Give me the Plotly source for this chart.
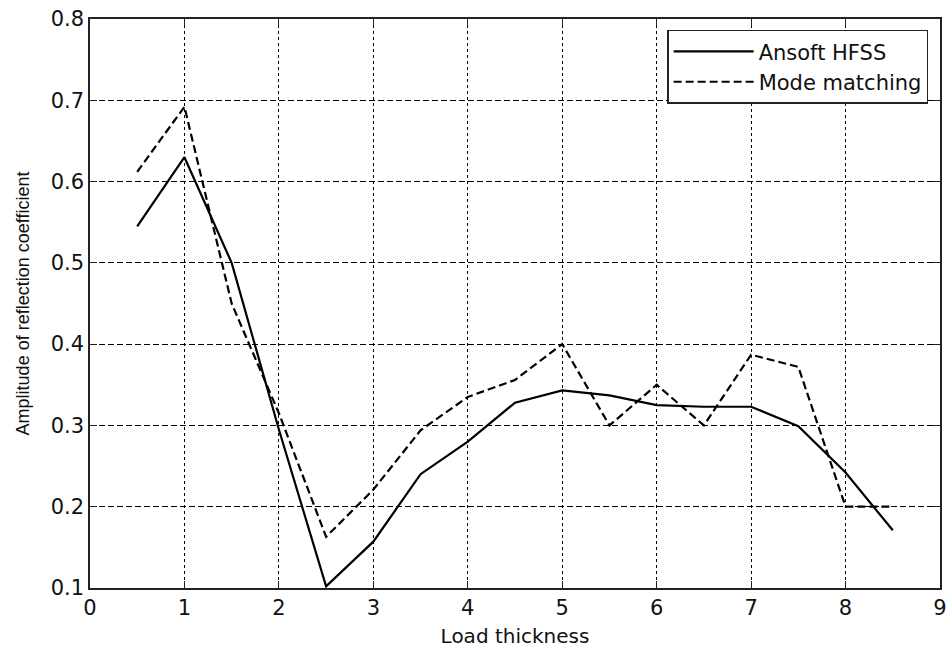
import plotly.graph_objects as go

thickness = [0.5, 1.0, 1.5, 2.0, 2.5, 3.0, 3.5, 4.0, 4.5, 5.0, 5.5, 6.0, 6.5, 7.0, 7.5, 8.0, 8.5]
hfss = [0.545, 0.630, 0.500, 0.295, 0.102, 0.157, 0.240, 0.280, 0.328, 0.343, 0.337, 0.325, 0.323, 0.323, 0.299, 0.242, 0.171]
mode_matching = [0.612, 0.692, 0.450, 0.315, 0.163, 0.221, 0.294, 0.335, 0.356, 0.400, 0.300, 0.350, 0.300, 0.387, 0.372, 0.200, 0.200]

x_ticks = [0, 1, 2, 3, 4, 5, 6, 7, 8, 9]
y_ticks = [0.1, 0.2, 0.3, 0.4, 0.5, 0.6, 0.7, 0.8]

font_h = "DejaVu Sans"

fig = go.Figure()
fig.add_trace(go.Scatter(x=thickness, y=hfss, mode="lines", name="Ansoft HFSS",
                         line=dict(color="black", width=2.2)))
fig.add_trace(go.Scatter(x=thickness, y=mode_matching, mode="lines", name="Mode matching",
                         line=dict(color="black", width=2.2, dash="8px,4px")))

axis_common = dict(
    showline=True, linecolor="#222", linewidth=1.5, mirror="ticks",
    ticks="inside", ticklen=7, tickcolor="#222", tickwidth=1,
    showgrid=True, gridcolor="black", gridwidth=1,
    zeroline=False, ticklabeloverflow="allow", automargin=False,
    tickfont=dict(family=font_h, size=21, color="#111"),
)

fig.update_xaxes(range=[0, 9], tickvals=x_ticks, ticktext=[str(v) for v in x_ticks],
                 griddash="3px,3px",
                 title=dict(text="Load thickness", font=dict(family=font_h, size=20, color="#111"), standoff=10),
                 **axis_common)
fig.update_yaxes(range=[0.1, 0.8], tickvals=y_ticks, ticktext=[f"{v:.1f}" for v in y_ticks],
                 griddash="6px,3px",
                 title=dict(text="Amplitude of reflection coefficient",
                            font=dict(family="Liberation Sans", size=18, color="#111"), standoff=16),
                 **axis_common)

fig.update_layout(
    width=949, height=652,
    margin=dict(l=90, r=9, t=19, b=64, autoexpand=False),
    plot_bgcolor="white", paper_bgcolor="white",
    showlegend=True,
    legend=dict(x=0.679, y=0.981, xanchor="left", yanchor="top",
                bgcolor="white", bordercolor="#222", borderwidth=1.5,
                font=dict(family=font_h, size=21, color="#111"),
                itemwidth=80, tracegroupgap=0),
)

# remove the browser's default body margin so the figure fills the window exactly
fig.write_html("out.html",
               config={"displayModeBar": False},
               post_script="document.body.style.margin='0';document.documentElement.style.overflow='hidden';")
